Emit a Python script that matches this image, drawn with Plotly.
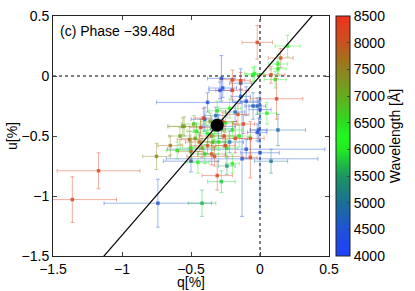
import plotly.graph_objects as go

# ---------------- data ----------------
q_vals = [-1.36, -1.17, -0.75, -0.74, -0.42, -0.02, 0.15, 0.20, 0.13, 0.13,
          0.08, 0.11, -0.04, -0.28, -0.14, -0.20, -0.14, 0.12, 0.05, 0.13,
          -0.01, -0.07, 0.00, -0.10, -0.05, -0.20, -0.27, -0.25, -0.18, -0.24,
          0.08, -0.13, -0.07, -0.31, -0.28, -0.24, -0.20, -0.33, -0.50, -0.45,
          -0.38, -0.55, -0.47, -0.43, -0.40, -0.46, -0.38, -0.29, -0.05, -0.22,
          0.00, -0.02, -0.41, -0.56, -0.51, -0.02, -0.16, -0.31, -0.14, -0.10,
          -0.33, -0.35, -0.27, -0.30, -0.38, -0.42, -0.50, -0.26, -0.20, -0.12,
          -0.22, -0.60, -0.65, -0.35, -0.50, -0.30, -0.18,
          -0.36, -0.28, -0.34, -0.44, -0.25, -0.32, -0.48, -0.58, -0.40, -0.15]
u_vals = [-1.03, -0.79, -0.67, -1.06, -1.06, 0.28, 0.15, 0.25, 0.10, 0.06,
          0.01, -0.03, 0.02, -0.02, -0.06, -0.03, -0.04, -0.19, -0.31, -0.45,
          -0.45, -0.52, -0.64, -0.21, -0.25, -0.12, -0.10, -0.39, -0.52, -0.60,
          -0.71, -0.69, -0.68, -0.83, -0.88, -0.75, -0.73, -0.67, -0.71, -0.72,
          -0.22, -0.42, -0.52, -0.43, -0.36, -0.46, -0.58, -0.12, 0.01, -0.27,
          -0.28, -0.25, -0.35, -0.42, -0.53, -0.47, -0.32, -0.29, -0.17, -0.61,
          -0.45, -0.50, -0.38, -0.42, -0.48, -0.60, -0.60, -0.50, -0.45, -0.40,
          -0.55, -0.62, -0.58, -0.65, -0.63, -0.55, -0.30,
          -0.38, -0.44, -0.55, -0.55, -0.58, -0.33, -0.40, -0.50, -0.65, -0.50]
dq_vals = [0.32, 0.30, 0.10, 0.39, 0.10, 0.11, 0.09, 0.09, 0.07, 0.06,
           0.10, 0.08, 0.07, 0.10, 0.08, 0.09, 0.07, 0.19, 0.07, 0.20,
           0.06, 0.10, 0.14, 0.10, 0.06, 0.12, 0.10, 0.06, 0.09, 0.08,
           0.12, 0.55, 0.05, 0.11, 0.10, 0.06, 0.05, 0.20, 0.20, 0.08,
           0.37, 0.12, 0.10, 0.08, 0.10, 0.07, 0.12, 0.08, 0.05, 0.08,
           0.08, 0.06, 0.06, 0.10, 0.09, 0.07, 0.08, 0.06, 0.07, 0.57,
           0.08, 0.09, 0.10, 0.12, 0.07, 0.09, 0.08, 0.10, 0.07, 0.08,
           0.10, 0.08, 0.09, 0.10, 0.09, 0.08, 0.07,
           0.07, 0.08, 0.09, 0.10, 0.07, 0.08, 0.09, 0.08, 0.10, 0.08]
du_vals = [0.19, 0.15, 0.11, 0.20, 0.11, 0.14, 0.08, 0.09, 0.08, 0.06,
           0.07, 0.07, 0.06, 0.19, 0.12, 0.08, 0.07, 0.17, 0.09, 0.13,
           0.10, 0.14, 0.50, 0.12, 0.11, 0.08, 0.08, 0.08, 0.12, 0.07,
           0.10, 0.48, 0.17, 0.12, 0.09, 0.07, 0.08, 0.08, 0.09, 0.09,
           0.08, 0.08, 0.07, 0.07, 0.10, 0.07, 0.07, 0.07, 0.06, 0.08,
           0.08, 0.07, 0.08, 0.07, 0.07, 0.07, 0.09, 0.08, 0.06, 0.08,
           0.08, 0.09, 0.08, 0.10, 0.07, 0.08, 0.08, 0.09, 0.07, 0.08,
           0.09, 0.07, 0.08, 0.09, 0.08, 0.07, 0.08,
           0.07, 0.08, 0.07, 0.08, 0.08, 0.07, 0.07, 0.07, 0.08, 0.09]
wl_vals = [8300, 8200, 7400, 4600, 5700, 8200, 8000, 6300, 6200, 6000,
           8100, 6400, 6100, 4400, 4700, 8100, 8300, 8200, 6300, 4900,
           4600, 8000, 4500, 4500, 4700, 8400, 4300, 6000, 8300, 6200,
           5100, 4500, 8200, 8300, 5800, 5500, 6300, 8100, 4600, 6200,
           4400, 7300, 7400, 8200, 4600, 6100, 8100, 4400, 6200, 6100,
           4500, 4700, 8200, 7200, 8000, 4500, 8100, 6400, 4600, 4400,
           6000, 7300, 8200, 4600, 6100, 7500, 6300, 8100, 6200, 8300,
           4700, 6000, 7600, 8200, 7800, 6400, 4800,
           7000, 5300, 6600, 7800, 8200, 4800, 6800, 7100, 5900, 6200]

mean_q = [-0.31]
mean_u = [-0.41]
isp_slope = 1.327
wl_min, wl_max = 4000, 8500
tick_vals = [-1.5, -1, -0.5, 0, 0.5]
tick_text = ["\u22121.5", "\u22121", "\u22120.5", "0", "0.5"]
cb_ticks = [4000, 4500, 5000, 5500, 6000, 6500, 7000, 7500, 8000, 8500]

# colour scale (blue -> green -> red)
cs = [
    (0.000, (30, 64, 255)),
    (0.111, (30, 82, 215)),
    (0.222, (26, 112, 150)),
    (0.333, (26, 150, 95)),
    (0.444, (32, 235, 32)),
    (0.500, (32, 248, 32)),
    (0.556, (45, 222, 30)),
    (0.667, (100, 172, 30)),
    (0.778, (145, 130, 30)),
    (0.889, (200, 82, 30)),
    (1.000, (240, 50, 30)),
]


def wl_rgb(w):
    t = (w - wl_min) / (wl_max - wl_min)
    t = min(max(t, 0), 1)
    for (t0, c0), (t1, c1) in zip(cs[:-1], cs[1:]):
        if t <= t1:
            f = (t - t0) / (t1 - t0) if t1 > t0 else 0
            return tuple(int(round(a + (b - a) * f)) for a, b in zip(c0, c1))
    return cs[-1][1]


fig = go.Figure()

for q, u, dq, du, w in zip(q_vals, u_vals, dq_vals, du_vals, wl_vals):
    r, g, b = wl_rgb(w)
    ecol = f"rgba({r},{g},{b},0.42)"
    fig.add_trace(go.Scatter(
        x=[q], y=[u], mode="markers",
        marker=dict(symbol="square", size=3.5, color=f"rgba({r},{g},{b},0.8)"),
        error_x=dict(type="data", array=[dq], color=ecol, thickness=1, width=2),
        error_y=dict(type="data", array=[du], color=ecol, thickness=1, width=2),
        showlegend=False, hoverinfo="skip"))

# ISP line through origin
line_x = [-1.5, 0.5]
line_y = [isp_slope * v for v in line_x]
fig.add_trace(go.Scatter(x=line_x, y=line_y, mode="lines",
                         line=dict(color="black", width=1.2),
                         showlegend=False, hoverinfo="skip"))

# mean point
fig.add_trace(go.Scatter(x=mean_q, y=mean_u, mode="markers",
                         marker=dict(size=13, color="black"),
                         showlegend=False, hoverinfo="skip"))

# colorbar carrier
colorscale = [[t, f"rgb{c}"] for t, c in cs]
fig.add_trace(go.Scatter(
    x=[None], y=[None], mode="markers",
    marker=dict(color=[wl_min], cmin=wl_min, cmax=wl_max, colorscale=colorscale,
                showscale=True,
                colorbar=dict(
                    x=1.0254, xanchor="left", xpad=0, ypad=0,
                    y=0, yanchor="bottom", len=1, lenmode="fraction",
                    thickness=14, outlinecolor="#222", outlinewidth=1,
                    tickvals=cb_ticks, ticks="inside", ticklen=3,
                    tickcolor="#444",
                    tickfont=dict(family="Liberation Sans", size=14, color="black"),
                    title=dict(text="Wavelength [\u00c5]", side="right",
                               font=dict(family="Liberation Sans", size=14, color="black")),
                )),
    showlegend=False, hoverinfo="skip"))

axis_common = dict(range=[-1.5, 0.5], tickvals=tick_vals, ticktext=tick_text,
                   ticks="inside", ticklen=4, tickcolor="#444", mirror="ticks",
                   showline=True, linecolor="#222", linewidth=1,
                   showgrid=False, zeroline=False, automargin=False,
                   tickfont=dict(family="Liberation Sans", size=14, color="black"))

fig.update_layout(
    width=415, height=291,
    margin=dict(l=53, r=86, t=16, b=35, autoexpand=False),
    paper_bgcolor="white", plot_bgcolor="white",
    xaxis=axis_common, yaxis=axis_common,
    font=dict(family="Liberation Sans", size=14, color="black"),
    shapes=[
        dict(type="line", xref="x", yref="paper", x0=0, x1=0, y0=0, y1=1,
             line=dict(color="black", width=1, dash="dot"), layer="below"),
        dict(type="line", xref="paper", yref="y", x0=0, x1=1, y0=0, y1=0,
             line=dict(color="black", width=1, dash="dot"), layer="below"),
    ],
    annotations=[
        dict(text="(c) Phase \u221239.48d", xref="paper", yref="paper", x=0, y=1,
             xanchor="left", yanchor="top", xshift=5, yshift=-5, showarrow=False,
             font=dict(family="Liberation Sans", size=14, color="black")),
        dict(text="q[%]", xref="paper", yref="paper", x=0.5, y=0,
             xanchor="center", yanchor="top", yshift=-16, showarrow=False,
             font=dict(family="Liberation Sans", size=14, color="black")),
        dict(text="u[%]", xref="paper", yref="paper", x=0, y=0.5, textangle=-90,
             xanchor="center", yanchor="middle", xshift=-41, showarrow=False,
             font=dict(family="Liberation Sans", size=14, color="black")),
    ],
)

fig.write_html("out.html",
               config={"displayModeBar": False},
               post_script="document.body.style.margin='0';"
                           "document.body.style.overflow='hidden';")
